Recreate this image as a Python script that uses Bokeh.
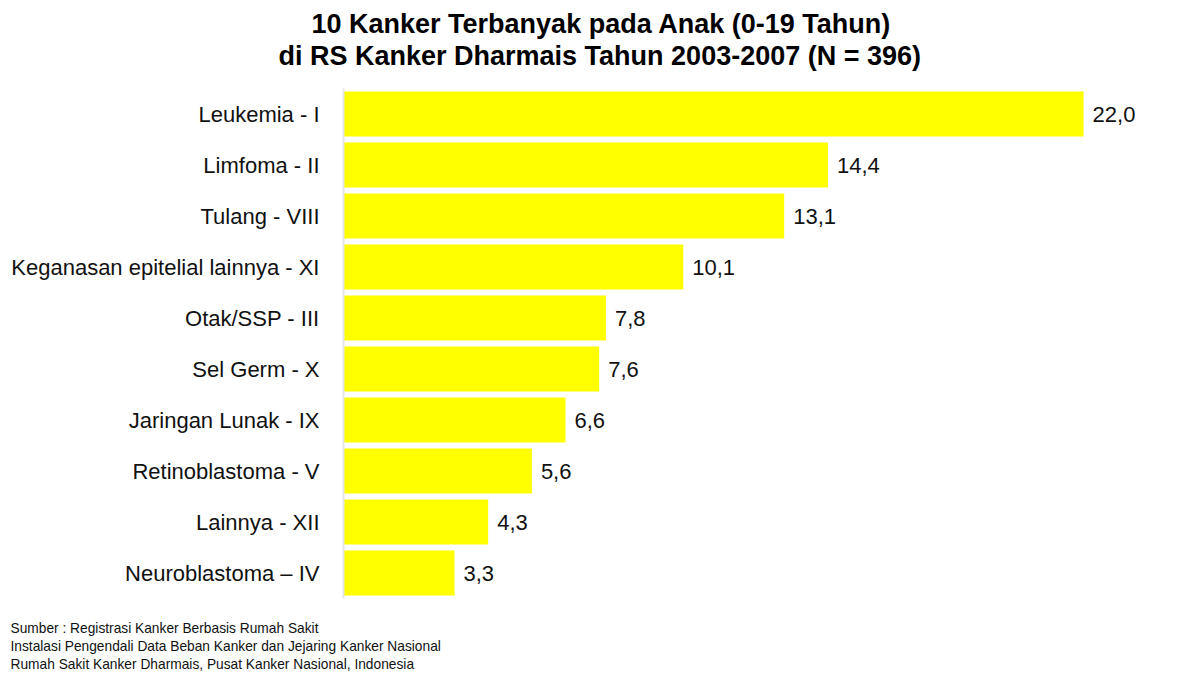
from bokeh.plotting import figure
from bokeh.models import ColumnDataSource, Title, FactorRange
from bokeh.core.properties import value
from bokeh.embed import file_html
from bokeh.resources import INLINE

categories = ["Leukemia - I", "Limfoma - II", "Tulang - VIII", "Keganasan epitelial lainnya - XI",
              "Otak/SSP - III", "Sel Germ - X", "Jaringan Lunak - IX", "Retinoblastoma - V",
              "Lainnya - XII", "Neuroblastoma \u2013 IV"]
values = [22.0, 14.4, 13.1, 10.1, 7.8, 7.6, 6.6, 5.6, 4.3, 3.3]
value_labels = ["22,0", "14,4", "13,1", "10,1", "7,8", "7,6", "6,6", "5,6", "4,3", "3,3"]
title_lines = ["10 Kanker Terbanyak pada Anak (0-19 Tahun)",
               "di RS Kanker Dharmais Tahun 2003-2007 (N = 396)"]
source_lines = ["Sumber : Registrasi Kanker Berbasis Rumah Sakit",
                "Instalasi Pengendali Data Beban Kanker dan Jejaring Kanker Nasional",
                "Rumah Sakit Kanker Dharmais, Pusat Kanker Nasional, Indonesia"]

W, H = 1200, 677
L, T, FH = 343, 88, 510
src = ColumnDataSource(dict(cat=categories, val=values, lab=value_labels))

p = figure(width=W, height=H, output_backend="svg", toolbar_location=None,
           y_range=FactorRange(*categories[::-1], range_padding=0),
           x_range=(0, 25), min_border_left=L, min_border_right=W - L - 841,
           min_border_top=T, min_border_bottom=H - T - FH)
p.hbar(y="cat", right="val", left=0, height=0.88, source=src, color="#FFFF00", line_color=None)
p.text(x="val", y="cat", text="lab", source=src, x_offset=9, text_align="left",
       text_baseline="middle", text_font=value("Liberation Sans"), text_font_size="22px",
       text_color="#111111")

p.xaxis.visible = False
p.xgrid.visible = False
p.ygrid.visible = False
p.outline_line_color = None
p.yaxis.axis_line_color = "#e6e6e6"
p.yaxis.axis_line_width = 2
p.yaxis.major_tick_line_color = None
p.yaxis.minor_tick_line_color = None
p.yaxis.major_label_standoff = 18
p.yaxis.major_label_text_font = "Liberation Sans"
p.yaxis.major_label_text_font_size = "22px"
p.yaxis.major_label_text_color = "#111111"

# spacer between frame and title block
p.add_layout(Title(text=" ", standoff=0, text_font_size="13px"), "above")
# title lines: nearest to frame added first
for t, left, so in zip(title_lines[::-1], [278, 311], [1, 0]):
    p.add_layout(Title(text=t, align="left", offset=left - L, standoff=so,
                       text_font="Liberation Sans", text_font_style="bold",
                       text_font_size="27px", text_color="#000000"), "above")

# spacer between frame and source block
p.add_layout(Title(text=" ", standoff=3, text_font_size="13.75px"), "below")
for t in source_lines:
    p.add_layout(Title(text=t, align="left", offset=10 - L, standoff=0.5,
                       text_font="Liberation Sans", text_font_style="normal",
                       text_font_size="13.75px", text_color="#111111"), "below")

open("out.html", "w").write(file_html(p, INLINE))
